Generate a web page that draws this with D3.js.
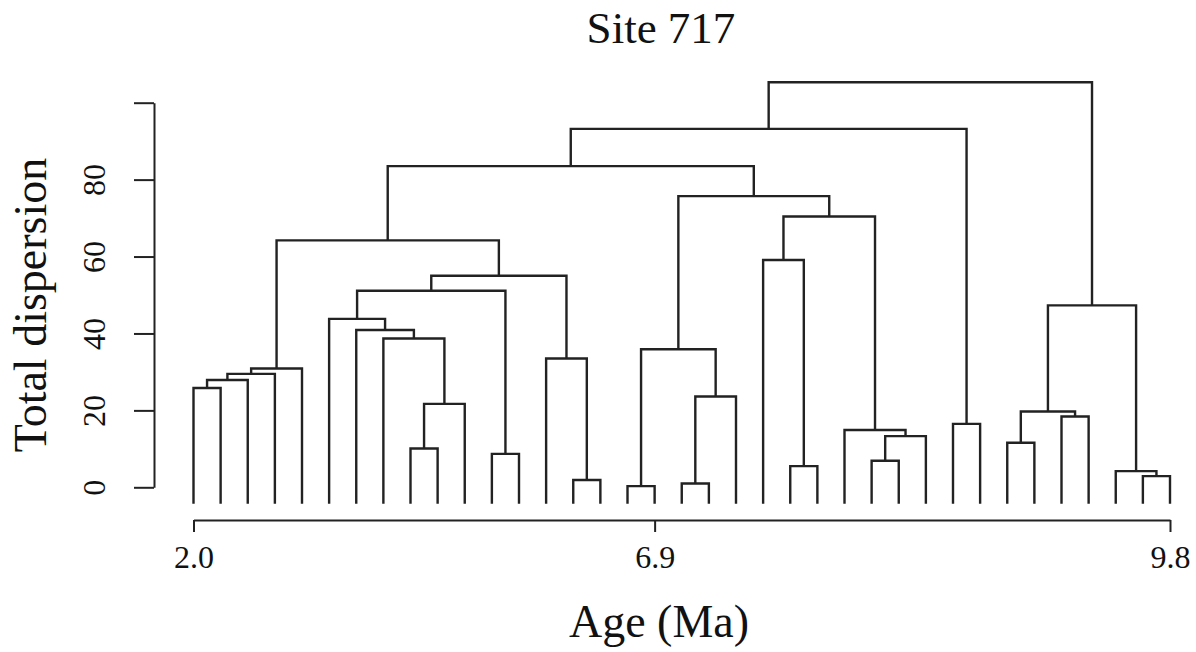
<!DOCTYPE html>
<html>
<head>
<meta charset="utf-8">
<script src="https://cdn.jsdelivr.net/npm/d3@7"></script>
<style>
  body { margin: 0; background: #fff; }
  text { font-family: "Liberation Serif", "Times New Roman", serif; fill: #111; }
</style>
</head>
<body>
<script>
'use strict';

// leaves, left to right (37 samples)
const leaves = d3.range(1, 38);
// depth the leaves hang down to
const leafBase = -4.3;

// hclust style merges: negative = leaf id, positive = earlier merge (1-based)
const mergeA = [-17, -19, -15, -36, -35, -23, -26, -12, -9, -31,
                  7, -25, -29, -33, 10, 9, 2, -1, 18, 19,
                 20, -14, 1, -8, -7, -6, 15, 26, 28, -22,
                 21, 30, 23, 31, 34, 35];
const mergeB = [-18, -20, -16, -37, 4, -24, -27, -13, -10, -32,
                -28, 11, -30, -34, 14, -11, -21, -2, -3, -4,
                 -5, 3, 17, 16, 24, 25, 5, 8, 22, 6,
                 29, 12, 32, 33, 13, 27];
const mergeHeight = [0.3, 1.0, 1.9, 2.9, 4.2, 5.5, 6.9, 8.7, 10.1, 11.6,
                     13.3, 14.9, 16.5, 18.4, 19.7, 21.7, 23.6, 25.8, 27.9, 29.5,
                     30.9, 33.5, 35.9, 38.7, 40.9, 43.8, 47.3, 51.1, 55.0, 59.1,
                     64.2, 70.4, 75.7, 83.5, 93.2, 105.3];

const yTicks = [0, 20, 40, 60, 80, 100];
const yTickLabels = ["0", "20", "40", "60", "80", ""];
const ageTickLeaves = [1, 18, 37];
const ageTickLabels = ["2.0", "6.9", "9.8"];

const width = 1196, height = 652;

const svg = d3.select("body").append("svg")
    .attr("width", width)
    .attr("height", height);

const x = d3.scalePoint()
    .domain(leaves)
    .range([193.5, 1170]);

const y = d3.scaleLinear()
    .domain([0, 100])
    .range([487.3, 102.7]);

// x position and height of each node
let nodeX = [], nodeH = [];
function pos(id) {
    if (id < 0) return { x: x(-id), h: leafBase };
    return { x: nodeX[id - 1], h: nodeH[id - 1] };
}

const segs = [];
mergeHeight.forEach(function(h, i) {
    let a = pos(mergeA[i]), b = pos(mergeB[i]);
    nodeX[i] = (a.x + b.x) / 2;
    nodeH[i] = h;
    segs.push({ a: a, b: b, h: h });
});

svg.append("g")
    .attr("fill", "none")
    .attr("stroke", "#222")
    .attr("stroke-width", 2.4)
    .attr("stroke-linejoin", "miter")
    .selectAll("path")
    .data(segs)
    .enter().append("path")
      .attr("d", function(d) {
          return "M" + d.a.x + "," + y(d.a.h) +
                 "V" + y(d.h) + "H" + d.b.x + "V" + y(d.b.h);
      });

// y axis
let gy = svg.append("g")
    .attr("transform", "translate(154,0)")
    .call(d3.axisLeft(y).tickValues(yTicks)
        .tickFormat(function(d, i) { return yTickLabels[i]; })
        .tickSize(20).tickSizeOuter(0));
gy.selectAll("path, line").attr("stroke", "#222").attr("stroke-width", 2);
gy.selectAll("text")
    .attr("transform", "rotate(-90)")
    .attr("x", 0).attr("y", -49).attr("dy", null)
    .attr("text-anchor", "middle")
    .style("font-size", "32px");

// x axis (age)
let gx = svg.append("g")
    .attr("transform", "translate(0,520)")
    .call(d3.axisBottom(x).tickValues(ageTickLeaves)
        .tickFormat(function(d, i) { return ageTickLabels[i]; })
        .tickSize(12).tickSizeOuter(0));
gx.selectAll("path, line").attr("stroke", "#222").attr("stroke-width", 2);
gx.selectAll("text")
    .attr("y", 48).attr("dy", null)
    .style("font-size", "32px");

svg.selectAll(".domain").attr("fill", "none");
svg.selectAll(".tick text").attr("fill", "#111").style("font-family", "'Liberation Serif', serif");

// titles
svg.append("text")
    .attr("x", 661).attr("y", 43)
    .attr("text-anchor", "middle")
    .style("font-size", "45px")
    .text("Site 717");

svg.append("text")
    .attr("transform", "translate(46,305) rotate(-90)")
    .attr("text-anchor", "middle")
    .style("font-size", "46px")
    .text("Total dispersion");

svg.append("text")
    .attr("x", 659).attr("y", 637)
    .attr("text-anchor", "middle")
    .style("font-size", "46px")
    .text("Age (Ma)");
</script>
</body>
</html>
